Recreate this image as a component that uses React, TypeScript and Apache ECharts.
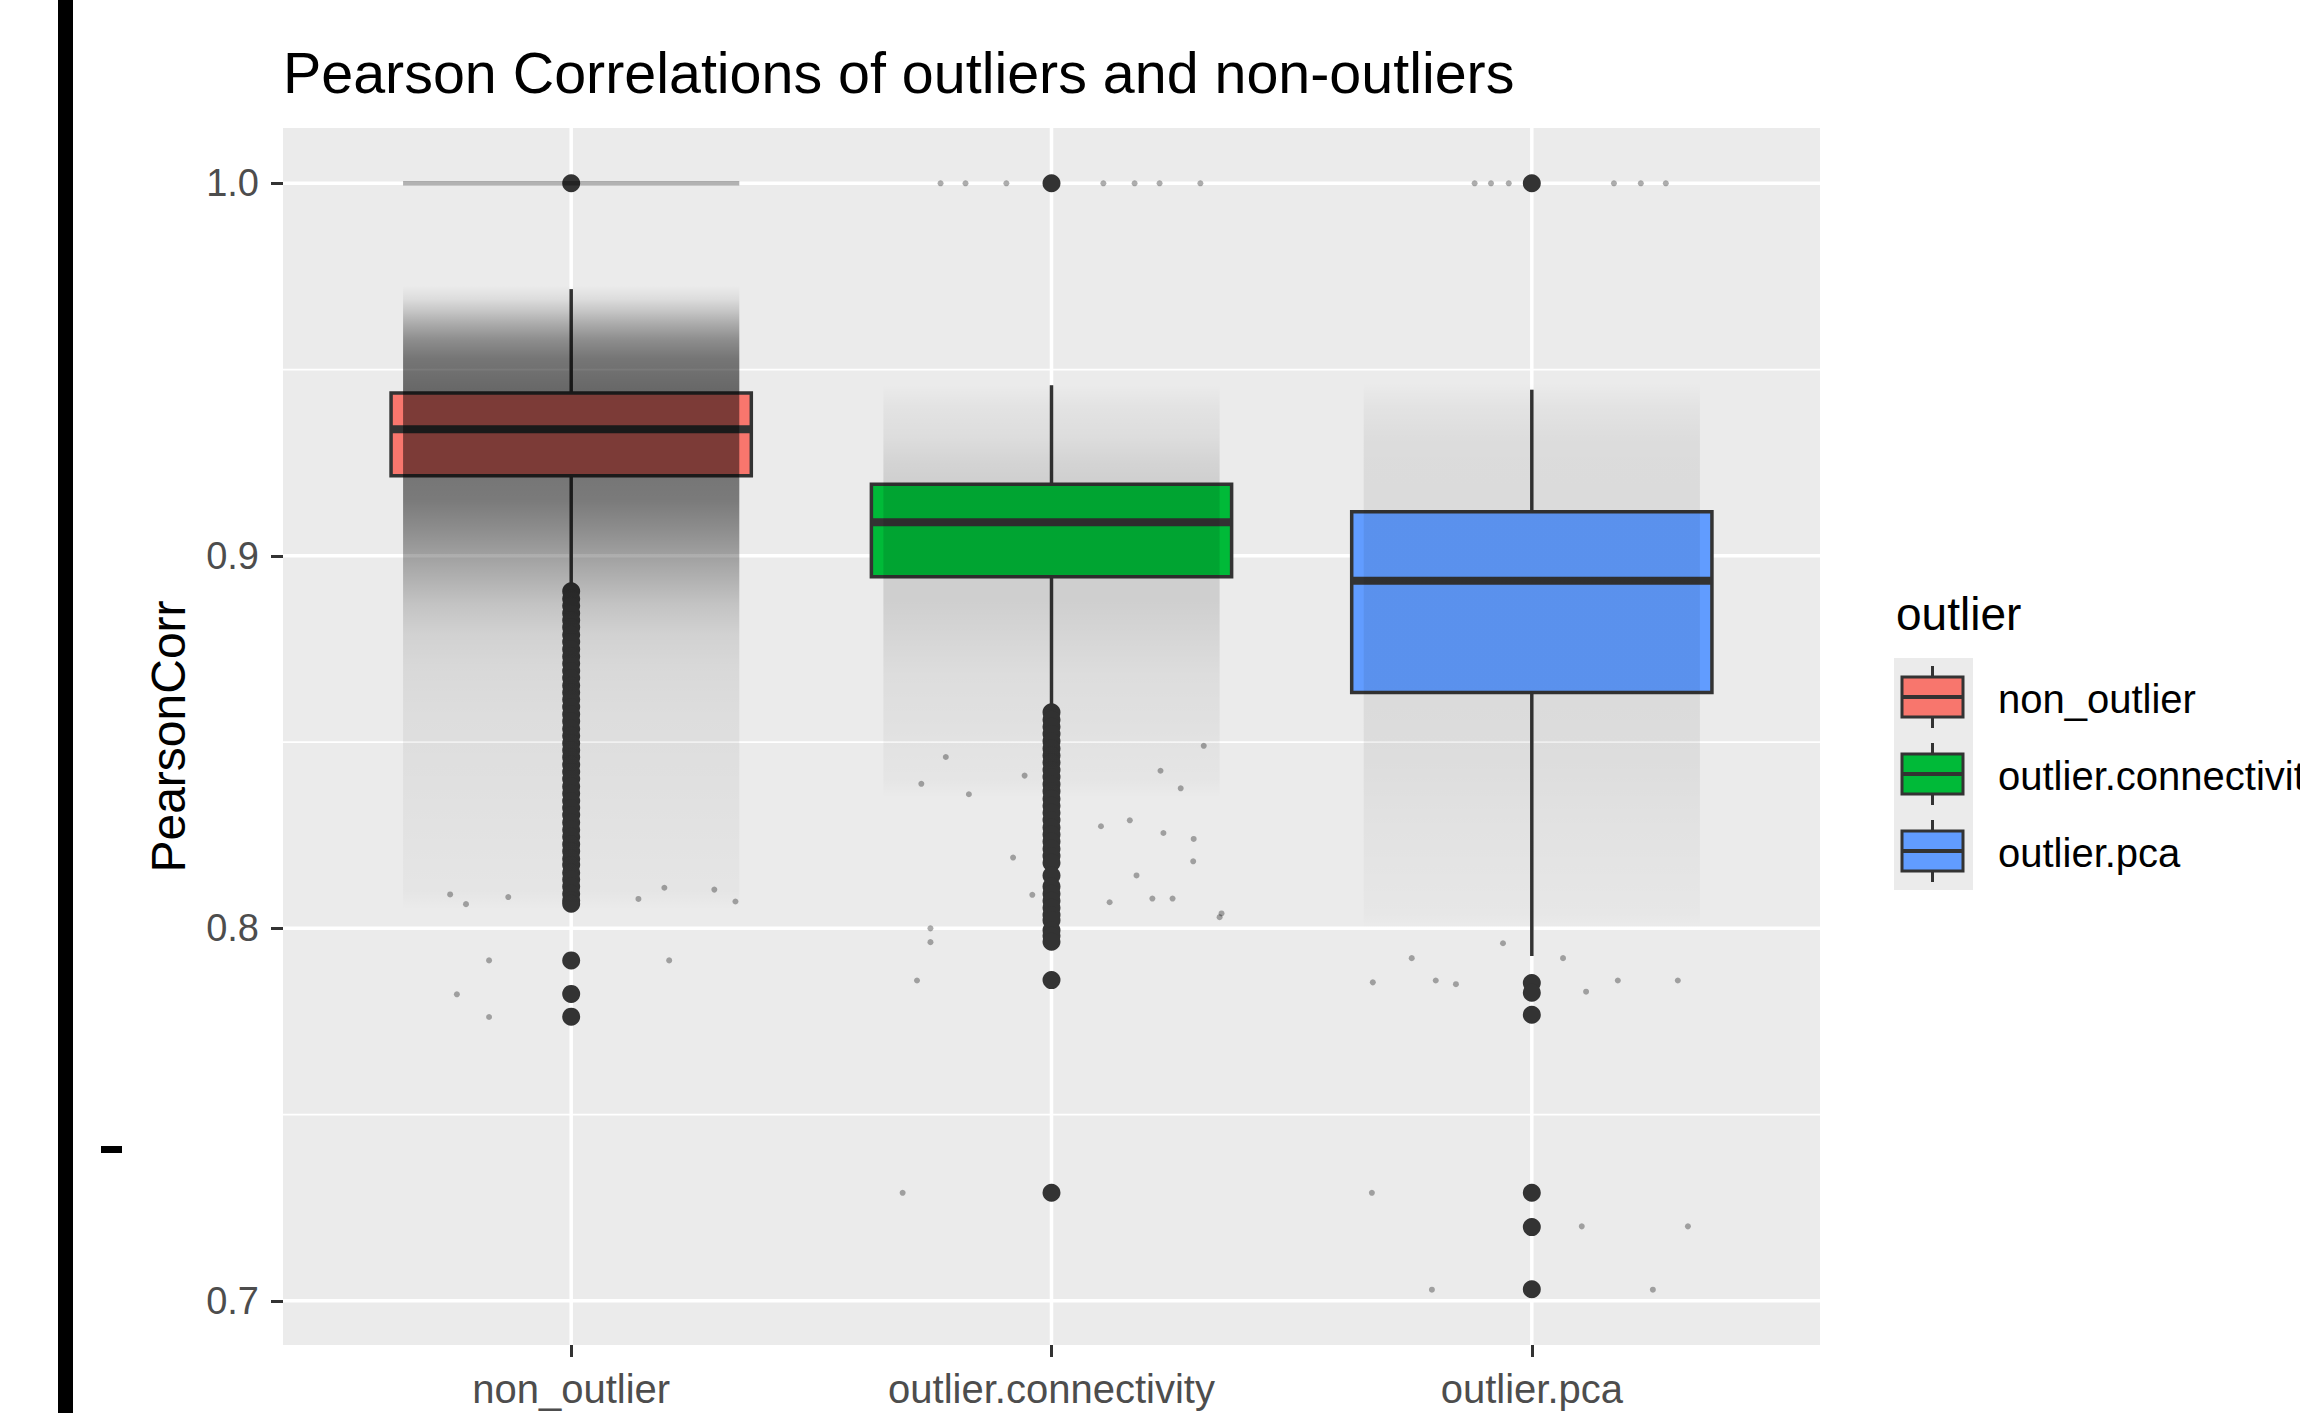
import React, { useEffect, useRef } from "react";
import * as echarts from "echarts";

const categories = ["non_outlier", "outlier.connectivity", "outlier.pca"];
const boxColors = ["#F8766D", "#00BA38", "#619CFF"];

// [lower whisker, Q1, median, Q3, upper whisker]
const boxNonOutlier = [0.8906, 0.9215, 0.934, 0.9437, 0.9716];
const boxConnectivity = [0.8585, 0.8944, 0.909, 0.9192, 0.9458];
const boxPca = [0.7926, 0.8633, 0.8933, 0.9118, 0.9446];

// outlier points drawn by the boxplot
const outliersNonOutlier = [
  1.0, 0.8905, 0.8885, 0.8866, 0.8846, 0.8827, 0.8808, 0.8788, 0.8769, 0.8749, 0.873, 0.8711,
  0.8691, 0.8672, 0.8652, 0.8633, 0.8614, 0.8594, 0.8575, 0.8556, 0.8536, 0.8517, 0.8497,
  0.8478, 0.8459, 0.8439, 0.842, 0.8401, 0.8381, 0.8362, 0.8342, 0.8323, 0.8304, 0.8284,
  0.8265, 0.8246, 0.8226, 0.8207, 0.8187, 0.817, 0.8149, 0.8131, 0.8112, 0.8093, 0.8075,
  0.8066, 0.7914, 0.7824, 0.7763,
];
const outliersConnectivity = [
  1.0, 0.858, 0.856, 0.8541, 0.8522, 0.8502, 0.8483, 0.8464, 0.8445, 0.8425, 0.8406, 0.8387,
  0.8368, 0.8348, 0.8329, 0.831, 0.8291, 0.8271, 0.8252, 0.8233, 0.8214, 0.8194, 0.8176,
  0.8142, 0.8112, 0.8093, 0.8074, 0.8055, 0.8036, 0.8022, 0.7995, 0.798, 0.7964, 0.7861,
  0.729,
];
const outliersPca = [1.0, 0.7853, 0.7827, 0.7768, 0.729, 0.7198, 0.7031];

// darkness of the jittered raw-point cloud read at several heights: [value, darkness]
const densityNonOutlier = [
  [0.9725, 0.0], [0.969, 0.06], [0.966, 0.15], [0.962, 0.28], [0.958, 0.4], [0.953, 0.5],
  [0.9445, 0.56], [0.9437, 0.5], [0.9215, 0.5], [0.915, 0.48], [0.908, 0.41], [0.901, 0.33],
  [0.894, 0.25], [0.887, 0.17], [0.879, 0.11], [0.87, 0.08], [0.857, 0.06], [0.835, 0.045],
  [0.81, 0.025], [0.805, 0.0],
];
const densityConnectivity = [
  [0.946, 0.0], [0.94, 0.035], [0.932, 0.06], [0.925, 0.1], [0.9193, 0.12], [0.8944, 0.12],
  [0.888, 0.12], [0.878, 0.09], [0.868, 0.06], [0.855, 0.045], [0.84, 0.025], [0.835, 0.0],
];
const densityPca = [
  [0.9465, 0.0], [0.94, 0.035], [0.93, 0.065], [0.9118, 0.07], [0.8633, 0.07], [0.845, 0.06],
  [0.828, 0.04], [0.804, 0.018], [0.8, 0.0],
];
// tied raw values at exactly 1.0 for non_outlier: [category, low, high, darkness]
const tiesAtOne = [[1, 0.9994, 1.0006, 0.3]];

// isolated jittered points: [x in category units, value]
const sparseNonOutlier = [
  [0.829, 0.7914], [1.204, 0.7914], [0.762, 0.7823], [0.829, 0.7762], [0.781, 0.8065],
  [0.869, 0.8084], [1.14, 0.8079], [1.342, 0.8072], [1.298, 0.8104], [1.194, 0.8109],
  [0.748, 0.8091],
];
const sparseConnectivity = [
  [1.78, 0.846], [1.729, 0.8388], [1.828, 0.836], [1.944, 0.841], [1.92, 0.819], [1.96, 0.809],
  [1.748, 0.8], [1.748, 0.7963], [1.72, 0.786], [2.103, 0.8274], [2.163, 0.829], [2.177, 0.8142],
  [2.121, 0.807], [2.21, 0.808], [2.252, 0.808], [2.233, 0.8256], [2.296, 0.824], [2.295, 0.818],
  [2.354, 0.804], [2.227, 0.8423], [2.269, 0.8376], [2.317, 0.849], [1.69, 0.729], [2.35, 0.803],
  [1.769, 1.0], [1.821, 1.0], [1.906, 1.0], [2.108, 1.0], [2.173, 1.0], [2.225, 1.0], [2.31, 1.0],
];
const sparsePca = [
  [2.669, 0.7855], [2.8, 0.786], [2.842, 0.785], [2.75, 0.792], [2.94, 0.796], [3.065, 0.792],
  [3.113, 0.783], [3.179, 0.786], [3.304, 0.786], [2.667, 0.729], [3.104, 0.72], [3.325, 0.72],
  [2.792, 0.703], [3.252, 0.703],
  [2.881, 1.0], [2.915, 1.0], [2.952, 1.0], [3.171, 1.0], [3.227, 1.0], [3.279, 1.0],
];

const yMajor = [0.7, 0.8, 0.9, 1.0];
const yMinor = [0.75, 0.85, 0.95];
const xTicks = [1, 2, 3];
const yMin = 0.68815;
const yMax = 1.01485;
const xMin = 0.4;
const xMax = 3.6;

const FONT = "'Liberation Sans', Arial, Helvetica, sans-serif";

export default function App() {
  const ref = useRef<HTMLDivElement>(null);

  useEffect(() => {
    if (!ref.current) return;
    const chart = echarts.init(ref.current, null, { renderer: "svg" });

    const boxes = [boxNonOutlier, boxConnectivity, boxPca];
    const boxData = boxes.map((b, i) => [i + 1, ...b]);
    const outlierData: number[][] = [];
    [outliersNonOutlier, outliersConnectivity, outliersPca].forEach((arr, i) =>
      arr.forEach((v) => outlierData.push([i + 1, v]))
    );
    const profiles = [densityNonOutlier, densityConnectivity, densityPca];
    // one shaded column per category: [cat, top value, bottom value]
    const densityData = profiles.map((p, i) => [i + 1, p[0][0], p[p.length - 1][0]]);
    const sparseData = [...sparseNonOutlier, ...sparseConnectivity, ...sparsePca];
    const hGridData = [
      ...yMajor.map((v) => [1, v, 3.5]),
      ...yMinor.map((v) => [1, v, 1.8]),
    ];
    const vGridData = xTicks.map((c) => [c, 0.8, 3.5]);

    const legendChildren: any[] = [
      {
        type: "text",
        x: 1896,
        y: 614,
        style: {
          text: "outlier",
          fontSize: 46,
          fontFamily: FONT,
          fill: "#000",
          align: "left",
          verticalAlign: "middle",
          textAlign: "left",
          textVerticalAlign: "middle",
        },
      },
      {
        type: "rect",
        shape: { x: 1894, y: 658, width: 79, height: 232 },
        style: { fill: "#EBEBEB" },
      },
    ];
    categories.forEach((name, i) => {
      const cy = 697 + 77 * i;
      legendChildren.push(
        {
          type: "line",
          shape: { x1: 1932.5, y1: cy - 31, x2: 1932.5, y2: cy + 31 },
          style: { stroke: "#333333", lineWidth: 3 },
        },
        {
          type: "rect",
          shape: { x: 1902, y: cy - 20, width: 61, height: 40 },
          style: { fill: boxColors[i], stroke: "#333333", lineWidth: 3 },
        },
        {
          type: "line",
          shape: { x1: 1902, y1: cy, x2: 1963, y2: cy },
          style: { stroke: "#333333", lineWidth: 4 },
        },
        {
          type: "text",
          x: 1998,
          y: cy + 2,
          style: {
            text: name,
            fontSize: 40,
            fontFamily: FONT,
            fill: "#000",
            align: "left",
            verticalAlign: "middle",
            textAlign: "left",
            textVerticalAlign: "middle",
          },
        }
      );
    });

    const option: any = {
      animation: false,
      backgroundColor: "#FFFFFF",
      title: {
        text: "Pearson Correlations of outliers and non-outliers",
        left: 283,
        top: 44,
        padding: 0,
        textStyle: { fontSize: 57.4, fontWeight: "normal", color: "#000", fontFamily: FONT },
      },
      grid: {
        left: 283,
        right: 480,
        top: 128,
        bottom: 68,
        show: true,
        backgroundColor: "#EBEBEB",
        borderWidth: 0,
        containLabel: false,
      },
      xAxis: {
        type: "value",
        min: xMin,
        max: xMax,
        axisLine: { show: false },
        splitLine: { show: false },
        axisTick: {
          show: true,
          customValues: xTicks,
          length: 12,
          lineStyle: { color: "#333333", width: 3 },
        },
        axisLabel: {
          customValues: xTicks,
          formatter: (v: number) => categories[Math.round(v) - 1] ?? "",
          fontSize: 40,
          color: "#4D4D4D",
          fontFamily: FONT,
          margin: 24,
        },
      },
      yAxis: {
        type: "value",
        min: yMin,
        max: yMax,
        axisLine: { show: false },
        splitLine: { show: false },
        axisTick: {
          show: true,
          customValues: yMajor,
          length: 12,
          lineStyle: { color: "#333333", width: 3 },
        },
        axisLabel: {
          customValues: yMajor,
          formatter: (v: number) => v.toFixed(1),
          fontSize: 38,
          color: "#4D4D4D",
          fontFamily: FONT,
          margin: 24,
        },
      },
      graphic: [
        { type: "rect", shape: { x: 58, y: 0, width: 15, height: 1413 }, style: { fill: "#000" } },
        { type: "rect", shape: { x: 101, y: 1146, width: 21, height: 7 }, style: { fill: "#000" } },
        {
          type: "text",
          x: 168,
          y: 736.5,
          rotation: Math.PI / 2,
          style: {
            text: "PearsonCorr",
            fontSize: 48,
            fontFamily: FONT,
            fill: "#000",
            align: "center",
            verticalAlign: "middle",
            textAlign: "center",
            textVerticalAlign: "middle",
          },
        },
        { type: "group", children: legendChildren },
      ],
      series: [
        {
          name: "hgrid",
          type: "custom",
          z: 1,
          silent: true,
          data: hGridData,
          encode: { x: 0, y: 1 },
          renderItem: (params: any, api: any) => {
            const cs = params.coordSys;
            const y = api.coord([1, api.value(1)])[1];
            return {
              type: "line",
              shape: { x1: cs.x, y1: y, x2: cs.x + cs.width, y2: y },
              style: { stroke: "#FFFFFF", lineWidth: api.value(2) },
            };
          },
        },
        {
          name: "vgrid",
          type: "custom",
          z: 1,
          silent: true,
          data: vGridData,
          encode: { x: 0, y: 1 },
          renderItem: (params: any, api: any) => {
            const cs = params.coordSys;
            const x = api.coord([api.value(0), 0.8])[0];
            return {
              type: "line",
              shape: { x1: x, y1: cs.y, x2: x, y2: cs.y + cs.height },
              style: { stroke: "#FFFFFF", lineWidth: api.value(2) },
            };
          },
        },
        {
          name: "boxes",
          type: "custom",
          z: 2,
          data: boxData,
          encode: { x: 0, y: [1, 2, 3, 4, 5] },
          renderItem: (params: any, api: any) => {
            const c = api.value(0);
            const pLo = api.coord([c, api.value(1)]);
            const pQ1 = api.coord([c, api.value(2)]);
            const pMed = api.coord([c, api.value(3)]);
            const pQ3 = api.coord([c, api.value(4)]);
            const pHi = api.coord([c, api.value(5)]);
            const hw = api.size([0.375, 0])[0];
            const cx = pLo[0];
            const stroke = "#333333";
            return {
              type: "group",
              children: [
                {
                  type: "line",
                  shape: { x1: cx, y1: pHi[1], x2: cx, y2: pQ3[1] },
                  style: { stroke, lineWidth: 3.5 },
                },
                {
                  type: "line",
                  shape: { x1: cx, y1: pQ1[1], x2: cx, y2: pLo[1] },
                  style: { stroke, lineWidth: 3.5 },
                },
                {
                  type: "rect",
                  shape: { x: cx - hw, y: pQ3[1], width: 2 * hw, height: pQ1[1] - pQ3[1] },
                  style: { fill: boxColors[c - 1], stroke, lineWidth: 3.5 },
                },
                {
                  type: "line",
                  shape: { x1: cx - hw, y1: pMed[1], x2: cx + hw, y2: pMed[1] },
                  style: { stroke, lineWidth: 8 },
                },
              ],
            };
          },
        },
        {
          name: "outliers",
          type: "scatter",
          z: 3,
          data: outlierData,
          symbol: "circle",
          symbolSize: 18,
          itemStyle: { color: "#333333", opacity: 1 },
        },
        {
          name: "jitter density",
          type: "custom",
          z: 4,
          silent: true,
          data: densityData,
          encode: { x: 0, y: [1, 2] },
          renderItem: (params: any, api: any) => {
            const c = api.value(0);
            const profile = profiles[c - 1];
            const pTop = api.coord([c, api.value(1)]);
            const pBot = api.coord([c, api.value(2)]);
            const h = pBot[1] - pTop[1];
            const hw = api.size([0.35, 0])[0];
            const colorStops = profile.map((pt) => ({
              offset: Math.min(1, Math.max(0, (api.coord([c, pt[0]])[1] - pTop[1]) / h)),
              color: `rgba(0,0,0,${pt[1]})`,
            }));
            return {
              type: "rect",
              shape: { x: pTop[0] - hw, y: pTop[1], width: 2 * hw, height: h },
              style: {
                fill: { type: "linear", x: 0, y: 0, x2: 0, y2: 1, colorStops },
              },
            };
          },
        },
        {
          name: "ties at 1.0",
          type: "custom",
          z: 4,
          silent: true,
          data: tiesAtOne,
          encode: { x: 0, y: [1, 2] },
          renderItem: (params: any, api: any) => {
            const c = api.value(0);
            const pLow = api.coord([c, api.value(1)]);
            const pHigh = api.coord([c, api.value(2)]);
            const hw = api.size([0.35, 0])[0];
            return {
              type: "rect",
              shape: {
                x: pLow[0] - hw,
                y: pHigh[1],
                width: 2 * hw,
                height: pLow[1] - pHigh[1],
              },
              style: { fill: `rgba(0,0,0,${api.value(3)})` },
            };
          },
        },
        {
          name: "jitter points",
          type: "scatter",
          z: 4,
          data: sparseData,
          symbol: "circle",
          symbolSize: 6,
          itemStyle: { color: "rgba(0,0,0,0.4)" },
        },
      ],
    };

    chart.setOption(option);
    return () => chart.dispose();
  }, []);

  return (
    <div
      ref={ref}
      style={{ position: "absolute", left: 0, top: 0, width: 2300, height: 1413 }}
    />
  );
}
